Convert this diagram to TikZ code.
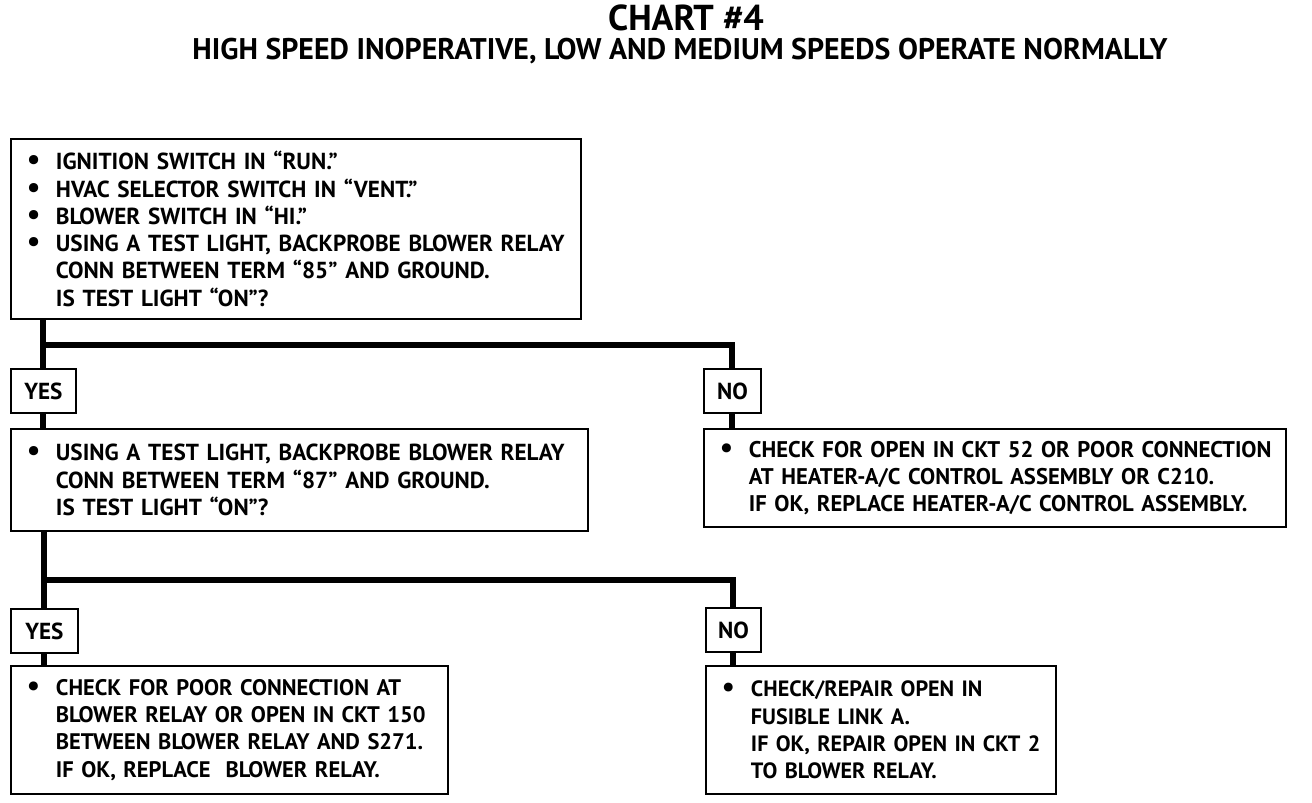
\documentclass[tikz,border=0pt]{standalone}
\usepackage{fontspec}
\setmainfont{PT Sans}
\usetikzlibrary{positioning, calc}

\newcommand{\bul}{\hspace*{0.32cm}\makebox[0.58cm][l]{\scalebox{1.3}{\textbullet}}}
\newcommand{\ind}{\hspace*{0.9cm}}

\begin{document}
\begin{tikzpicture}[x=0.02cm, y=-0.02cm, font=\bfseries\fontsize{13.2}{15.5}\selectfont,
  chartbox/.style={draw, line width=1.1pt, anchor=north west, align=left, inner sep=0pt},
  answer/.style={draw, line width=1.1pt, anchor=north west, minimum height=0.88cm, inner sep=0pt},
  trunk/.style={line width=3.4pt, line join=miter}]

  \useasboundingbox (0,0) rectangle (1312,802);

  \node (title) at (686,18) {\fontsize{20.5}{22}\selectfont CHART \#4};
  \node (subtitle) at (680,51) {\fontsize{17}{19}\selectfont HIGH SPEED INOPERATIVE, LOW AND MEDIUM SPEEDS OPERATE NORMALLY};

  % first test
  \node[chartbox, text width=11.4cm, minimum height=3.6cm] (test85) at (10,138)
    {\bul IGNITION SWITCH IN ``RUN.''\\
     \bul HVAC SELECTOR SWITCH IN ``VENT.''\\
     \bul BLOWER SWITCH IN ``HI.''\\
     \bul USING A TEST LIGHT, BACKPROBE BLOWER RELAY\\
     \ind CONN BETWEEN TERM ``85'' AND GROUND.\\
     \ind IS TEST LIGHT ``ON''?};
  \node[answer, minimum width=1.3cm] (yes1) at (10,368) {YES};
  \node[answer, minimum width=1.14cm] (no1) at (703,368) {NO};

  % second test
  \node[chartbox, text width=11.54cm, minimum height=2.04cm] (test87) at (10,428)
    {\bul USING A TEST LIGHT, BACKPROBE BLOWER RELAY\\
     \ind CONN BETWEEN TERM ``87'' AND GROUND.\\
     \ind IS TEST LIGHT ``ON''?};
  \node[chartbox, text width=11.64cm, minimum height=1.96cm,
    font=\bfseries\fontsize{12.9}{15.5}\selectfont] (ctrl) at (703,428)
    {\bul CHECK FOR OPEN IN CKT 52 OR POOR CONNECTION\\
     \ind AT HEATER-A/C CONTROL ASSEMBLY OR C210.\\
     \ind IF OK, REPLACE HEATER-A/C CONTROL ASSEMBLY.};
  \node[answer, minimum width=1.34cm] (yes2) at (10,608) {YES};
  \node[answer, minimum width=1.1cm] (no2) at (705,607) {NO};

  % repairs
  \node[chartbox, text width=8.74cm, minimum height=2.56cm,
    font=\bfseries\fontsize{12.8}{15.5}\selectfont] (relay) at (10,665)
    {\bul CHECK FOR POOR CONNECTION AT\\
     \ind BLOWER RELAY OR OPEN IN CKT 150\\
     \ind BETWEEN BLOWER RELAY AND S271.\\
     \ind IF OK, REPLACE\ \ BLOWER RELAY.};
  \node[chartbox, text width=7.0cm, minimum height=2.56cm,
    font=\bfseries\fontsize{12.6}{15.5}\selectfont] (fusible) at (705,665)
    {\bul CHECK/REPAIR OPEN IN\\
     \ind FUSIBLE LINK A.\\
     \ind IF OK, REPAIR OPEN IN CKT 2\\
     \ind TO BLOWER RELAY.};

  \coordinate (split1) at (43,345);
  \coordinate (split2) at (43,580);

  \draw[trunk] (test85.south -| yes1) -- (yes1.north);
  \draw[trunk] (yes1 |- split1) -- (no1 |- split1) -- (no1.north);
  \draw[trunk] (yes1.south) -- (test87.north -| yes1);
  \draw[trunk] (no1.south) -- (ctrl.north -| no1);

  \draw[trunk] (test87.south -| yes2) -- (yes2.north);
  \draw[trunk] (yes2 |- split2) -- (no2 |- split2) -- (no2.north);
  \draw[trunk] (yes2.south) -- (relay.north -| yes2);
  \draw[trunk] (no2.south) -- (fusible.north -| no2);
\end{tikzpicture}
\end{document}
